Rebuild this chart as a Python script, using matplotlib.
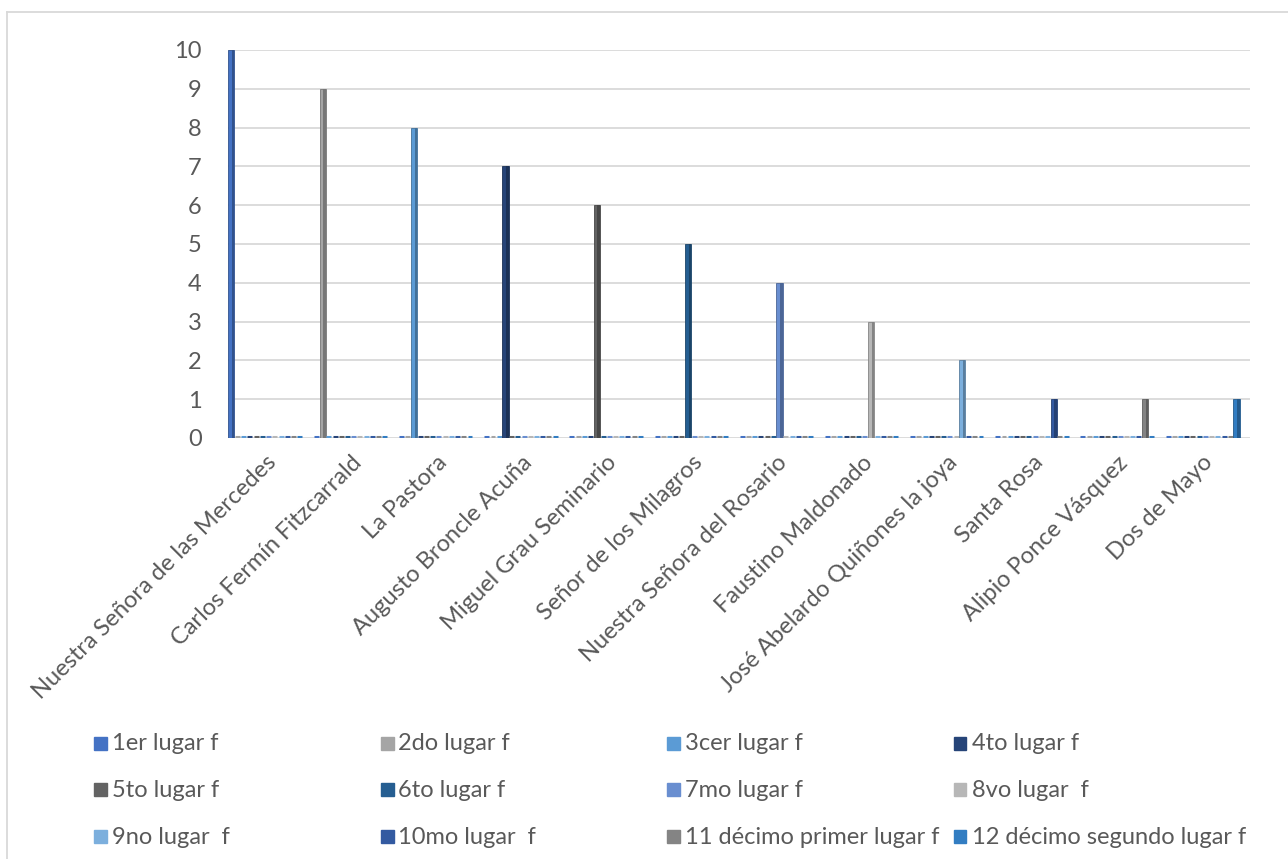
import numpy as np
import matplotlib
matplotlib.use("Agg")
import matplotlib.pyplot as plt
from matplotlib.patches import Rectangle
from matplotlib.lines import Line2D
from matplotlib.colors import to_rgb

plt.rcParams['font.family'] = ['Lato', 'DejaVu Sans']

schools = ["Nuestra Señora de las Mercedes", "Carlos Fermín Fitzcarrald", "La Pastora",
           "Augusto Broncle Acuña", "Miguel Grau Seminario", "Señor de los Milagros",
           "Nuestra Señora del Rosario", "Faustino Maldonado", "José Abelardo Quiñones la joya",
           "Santa Rosa", "Alipio Ponce Vásquez", "Dos de Mayo"]

series_names = ["1er lugar f", "2do lugar f", "3cer lugar f", "4to lugar f",
                "5to lugar f", "6to lugar f", "7mo lugar f", "8vo lugar  f",
                "9no lugar  f", "10mo lugar  f", "11 décimo primer lugar f",
                "12 décimo segundo lugar f"]

# value of each series at its own school (all other cells are 0)
diag_values = [10, 9, 8, 7, 6, 5, 4, 3, 2, 1, 1, 1]
values = np.zeros((12, 12))
for k, v in enumerate(diag_values):
    values[k, k] = v  # values[series, school]

colors = ["#4472C4", "#A5A5A5", "#5B9BD5", "#264478", "#636363", "#255E91",
          "#698ED0", "#B7B7B7", "#7CAFDD", "#335AA1", "#848484", "#327DC2"]

W, H = 1288, 859
FS = 17
TXT = "#595959"
fig = plt.figure(figsize=(W / 100, H / 100), dpi=100)

def fx(px):
    return px / W

def fy(py):
    return 1 - py / H

ax = fig.add_axes([fx(228), fy(438), fx(1250) - fx(228), fy(50) - fy(438)])

x = np.arange(len(schools))
w = 0.073
for s in range(12):
    pos = x + (s - 5.5) * w
    base = np.array(to_rgb(colors[s]))
    dark = base * 0.72
    ax.bar(pos, values[s], width=w, color=colors[s], edgecolor=dark,
           linewidth=0.6, zorder=3)
    # darker side face for a slight 3D look
    ax.bar(pos + w * 0.3, values[s], width=w * 0.4, color=dark, linewidth=0, zorder=4)
    # flat tops of the zero bars
    zero = values[s] == 0
    ax.hlines(np.zeros(zero.sum()) + 0.02, pos[zero] - w * 0.4, pos[zero] + w * 0.4,
              color=colors[s], linewidth=2.2, zorder=3)

ax.set_xlim(-0.44, 11.56)
ax.set_ylim(0, 10)
ax.set_yticks(range(0, 11))
ax.yaxis.grid(True, color="#D9D9D9", linewidth=1.3, zorder=0)
ax.set_axisbelow(True)
for sp in ax.spines.values():
    sp.set_visible(False)
ax.tick_params(axis="y", length=0, pad=19, labelsize=FS, labelcolor=TXT)
ax.tick_params(axis="x", length=0, pad=10, labelsize=FS, labelcolor=TXT)
ax.set_xticks(x)
ax.set_xticklabels(schools, rotation=45, ha="right", va="top", rotation_mode="anchor")

# legend, laid out row by row in four equal columns
for k, name in enumerate(series_names):
    row, col = divmod(k, 4)
    lx = 94 + 286.5 * col
    ly = 743 + 46.5 * row
    fig.add_artist(Rectangle((fx(lx), fy(ly + 6.5)), 13 / W, 13 / H,
                             transform=fig.transFigure, color=colors[k]))
    fig.text(fx(lx + 18), fy(ly + 1), name, fontsize=FS, color=TXT,
             ha="left", va="center")

# chart frame (only top and left edges visible)
fig.add_artist(Line2D([fx(7), fx(W + 5)], [fy(12), fy(12)], color="#D9D9D9",
                      linewidth=1.3, transform=fig.transFigure))
fig.add_artist(Line2D([fx(7), fx(7)], [fy(12), fy(H + 5)], color="#D9D9D9",
                      linewidth=1.3, transform=fig.transFigure))

fig.savefig("out.png", dpi=100, facecolor="white")
